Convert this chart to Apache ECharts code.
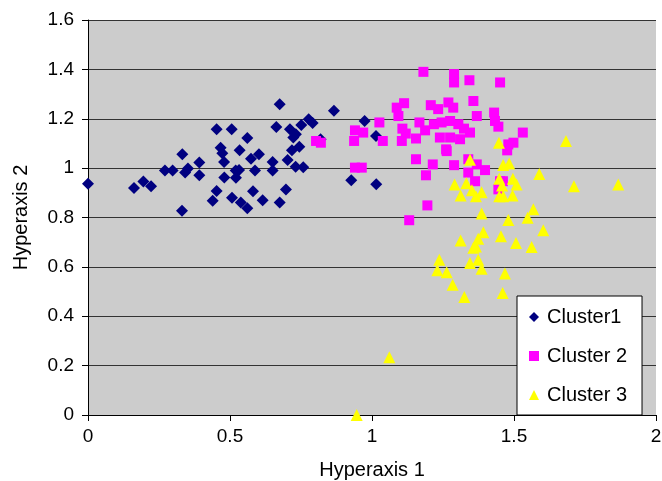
<!DOCTYPE html>
<html>
<head>
<meta charset="utf-8">
<script src="https://cdn.jsdelivr.net/npm/echarts@6/dist/echarts.min.js"></script>
<style>
  html, body { margin: 0; padding: 0; background: #fff; }
  #chart { width: 662px; height: 481px; }
</style>
</head>
<body>
<div id="chart"></div>
<script>
// points, [hyperaxis1, hyperaxis2]
var cluster1 = [
  [0.00, 0.937], [0.162, 0.919], [0.195, 0.946], [0.222, 0.927], [0.271, 0.990],
  [0.298, 0.990], [0.332, 1.056], [0.331, 0.827], [0.342, 0.982], [0.352, 0.998],
  [0.392, 1.023], [0.392, 0.971], [0.453, 1.157], [0.439, 0.868], [0.453, 0.907],
  [0.467, 1.083], [0.473, 1.060], [0.479, 1.025], [0.480, 0.962], [0.506, 1.157],
  [0.507, 0.880], [0.520, 0.990], [0.521, 0.961], [0.532, 0.992], [0.534, 1.072],
  [0.538, 0.861], [0.561, 1.122], [0.561, 0.837], [0.574, 1.038], [0.581, 0.906],
  [0.588, 0.990], [0.602, 1.056], [0.615, 0.870], [0.650, 1.025], [0.650, 0.990],
  [0.675, 1.259], [0.663, 1.167], [0.675, 0.861], [0.697, 0.913], [0.703, 1.033],
  [0.711, 1.157], [0.718, 1.072], [0.732, 1.137], [0.723, 1.124], [0.731, 1.006],
  [0.744, 1.087], [0.751, 1.175], [0.758, 1.004], [0.777, 1.198], [0.791, 1.183],
  [0.819, 1.117], [0.866, 1.232], [0.974, 1.191], [1.014, 1.130], [0.927, 0.951],
  [1.015, 0.935]
];
var cluster2 = [
  [1.181, 1.390], [1.289, 1.381], [1.289, 1.347], [1.343, 1.356], [1.451, 1.347],
  [1.113, 1.263], [1.087, 1.245], [1.093, 1.211], [1.207, 1.255], [1.233, 1.239],
  [1.269, 1.266], [1.286, 1.245], [1.357, 1.272], [1.369, 1.211], [1.430, 1.225],
  [1.433, 1.191], [1.445, 1.168], [1.531, 1.144], [1.026, 1.185], [0.940, 1.153],
  [0.969, 1.144], [0.937, 1.110], [1.038, 1.110], [1.107, 1.160], [1.119, 1.140],
  [1.105, 1.110], [1.155, 1.120], [1.167, 1.185], [1.187, 1.153], [1.218, 1.178],
  [1.245, 1.185], [1.275, 1.191], [1.304, 1.178], [1.324, 1.160], [1.345, 1.144],
  [1.239, 1.124], [1.275, 1.124], [1.310, 1.117], [1.261, 1.076], [1.155, 1.036],
  [1.214, 1.015], [1.190, 0.971], [1.289, 1.012], [1.339, 1.036], [1.369, 1.015],
  [1.398, 0.992], [1.339, 0.982], [1.363, 0.947], [1.451, 0.947], [1.445, 0.914],
  [1.195, 0.849], [1.131, 0.789], [0.940, 1.002], [0.964, 1.002], [1.480, 1.096],
  [1.498, 1.103], [1.461, 0.947], [0.803, 1.110], [0.820, 1.103], [1.263, 1.069],
  [1.476, 1.072]
];
var cluster3 = [
  [1.447, 1.103], [1.683, 1.110], [1.345, 1.034], [1.462, 1.013], [1.483, 1.019],
  [1.589, 0.976], [1.291, 0.934], [1.332, 0.939], [1.312, 0.889], [1.352, 0.910],
  [1.366, 0.886], [1.386, 0.902], [1.448, 0.957], [1.458, 0.930], [1.448, 0.886],
  [1.462, 0.886], [1.496, 0.957], [1.509, 0.934], [1.495, 0.889], [1.711, 0.927],
  [1.867, 0.934], [1.386, 0.816], [1.480, 0.790], [1.568, 0.833], [1.548, 0.799],
  [1.603, 0.748], [1.312, 0.707], [1.392, 0.740], [1.374, 0.714], [1.366, 0.683],
  [1.357, 0.677], [1.454, 0.724], [1.507, 0.697], [1.562, 0.681], [1.237, 0.629],
  [1.230, 0.586], [1.263, 0.578], [1.345, 0.616], [1.374, 0.629], [1.386, 0.592],
  [1.468, 0.573], [1.284, 0.528], [1.325, 0.478], [1.460, 0.494], [1.061, 0.234],
  [0.946, 0.000]
];
var seriesNames = ["Cluster1", "Cluster 2", "Cluster 3"];

var font = "'Liberation Sans', Arial, sans-serif";
var chart = echarts.init(document.getElementById("chart"));
chart.setOption({
  backgroundColor: "#ffffff",
  animation: false,
  textStyle: { fontFamily: font },
  grid: {
    left: 88, right: 6, top: 20, bottom: 66,
    outerBoundsMode: "none",
    containLabel: false,
    show: true, backgroundColor: "#cccccc", borderWidth: 0
  },
  xAxis: {
    type: "value",
    min: 0, max: 2, interval: 0.5,
    name: "Hyperaxis 1",
    nameLocation: "middle",
    nameGap: 45,
    nameTextStyle: { fontSize: 20, color: "#000", fontFamily: font },
    axisLine: { lineStyle: { color: "#000", width: 1 } },
    axisTick: { length: 6, lineStyle: { color: "#000" } },
    axisLabel: { fontSize: 19, color: "#000", margin: 12, fontFamily: font },
    splitLine: { show: false }
  },
  yAxis: {
    type: "value",
    min: 0, max: 1.6, interval: 0.2,
    name: "Hyperaxis 2",
    nameLocation: "middle",
    nameGap: 57,
    nameTextStyle: { fontSize: 20, color: "#000", fontFamily: font },
    axisLine: { show: true, lineStyle: { color: "#000", width: 1 } },
    axisTick: { show: true, length: 6, lineStyle: { color: "#000" } },
    axisLabel: {
      fontSize: 19, color: "#000", margin: 14, fontFamily: font,
      formatter: function (v) { return String(+v.toFixed(1)); }
    },
    splitLine: { lineStyle: { color: "#333333", width: 1 } }
  },
  legend: {
    orient: "vertical",
    left: 517, top: 296,
    padding: [10, 15, 9, 12],
    itemGap: 17,
    itemWidth: 10, itemHeight: 10,
    backgroundColor: "#ffffff",
    borderColor: "#000",
    borderWidth: 1,
    borderRadius: 0,
    textStyle: { fontSize: 20, color: "#000", lineHeight: 22, fontFamily: font, padding: [0, 0, 0, 3] },
    data: seriesNames
  },
  series: [
    {
      name: seriesNames[0], type: "scatter", data: cluster1,
      symbol: "diamond", symbolSize: 12,
      itemStyle: { color: "#000080", opacity: 1 }
    },
    {
      name: seriesNames[1], type: "scatter", data: cluster2,
      symbol: "rect", symbolSize: 10,
      itemStyle: { color: "#ff00ff", opacity: 1 }
    },
    {
      name: seriesNames[2], type: "scatter", data: cluster3,
      symbol: "triangle", symbolSize: 12,
      itemStyle: { color: "#ffff00", opacity: 1 }
    }
  ]
});
</script>
</body>
</html>
